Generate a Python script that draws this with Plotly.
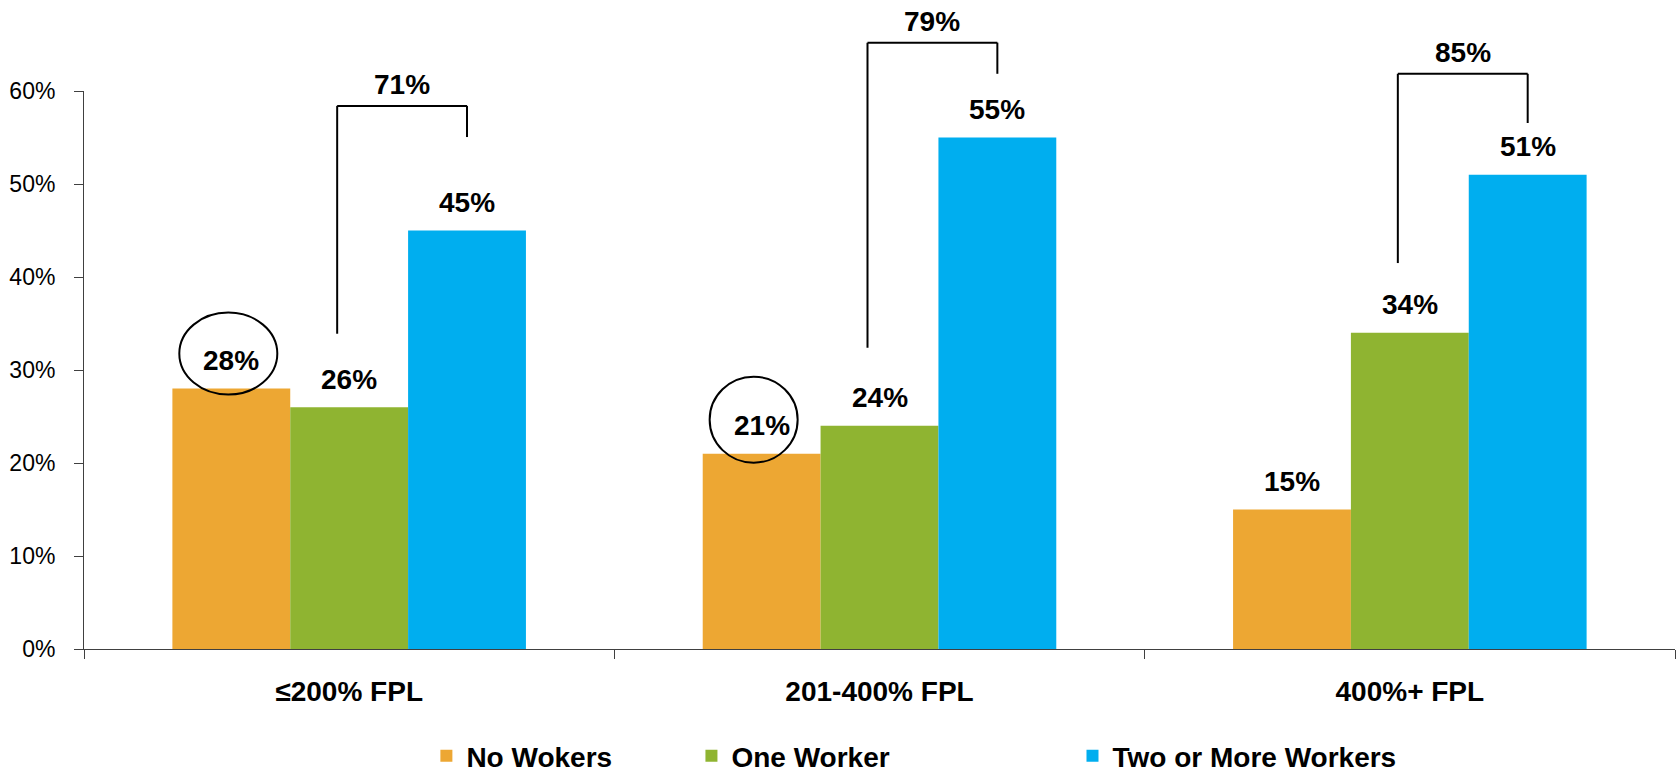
import plotly.graph_objects as go

categories = ["≤200% FPL", "201-400% FPL", "400%+ FPL"]
series_names = ["No Wokers", "One Worker", "Two or More Workers"]
no_workers = [0.28, 0.21, 0.15]
one_worker = [0.26, 0.24, 0.34]
two_plus = [0.45, 0.55, 0.51]
combined_labels = ["71%", "79%", "85%"]
circled = [0, 1]  # categories whose "No Wokers" label is circled

colors = ["#EDA733", "#8FB431", "#00AEEF"]
FONT = "Liberation Sans, Arial, sans-serif"

W, H = 1678, 773
ML, MR, MT, MB = 84, 3, 91, 124
plot_w = W - ML - MR
plot_h = H - MT - MB
YMAX = 0.6
cat_px = plot_w / len(categories)
BARGAP = 1 / 3
bw = (1 - BARGAP) / 3  # bar width in category units


def to_paper(v):
    return v / YMAX


series = [no_workers, one_worker, two_plus]

fig = go.Figure()
legend_ids = ["legend", "legend2", "legend3"]
for j, (name, vals) in enumerate(zip(series_names, series)):
    fig.add_trace(go.Bar(
        x=categories, y=vals, name=name,
        marker=dict(color=colors[j], line=dict(width=0)),
        legend=legend_ids[j],
        hoverinfo="skip",
    ))

annotations = []
shapes = []
# value labels
for j, vals in enumerate(series):
    for i, v in enumerate(vals):
        annotations.append(dict(
            x=i + (j - 1) * bw, y=to_paper(v), xref="x", yref="paper",
            text=f"<b>{round(v*100)}%</b>", showarrow=False,
            yanchor="middle", yshift=28,
            font=dict(family=FONT, size=28, color="black"),
        ))

# circles around selected labels
circle_px = [(-52, 46, -6, 76), (-52, 36, -9, 77)]
for k, i in enumerate(circled):
    x0, x1, y0, y1 = circle_px[k]
    shapes.append(dict(
        type="circle", xref="x", yref="paper",
        xsizemode="pixel", ysizemode="pixel",
        xanchor=i - bw, yanchor=to_paper(no_workers[i]),
        x0=x0, x1=x1, y0=y0, y1=y1,
        line=dict(color="black", width=2), fillcolor="rgba(0,0,0,0)",
    ))

# brackets (positions in data units)
bracket_top = [0.584, 0.652, 0.6185]
left_bottom = [0.339, 0.324, 0.415]
right_bottom = [0.5505, 0.6185, 0.5656]
left_off = -12 / cat_px
for i in range(len(categories)):
    xl = i + left_off
    xr = i + bw
    line = dict(color="black", width=2)
    top = to_paper(bracket_top[i])
    shapes.append(dict(type="line", xref="x", yref="paper", x0=xl, x1=xl,
                       y0=to_paper(left_bottom[i]), y1=top, line=line))
    shapes.append(dict(type="line", xref="x", yref="paper", x0=xl, x1=xr,
                       y0=top, y1=top, line=line))
    shapes.append(dict(type="line", xref="x", yref="paper", x0=xr, x1=xr,
                       y0=to_paper(right_bottom[i]), y1=top, line=line))
    annotations.append(dict(
        x=(xl + xr) / 2, y=top, xref="x", yref="paper",
        text=f"<b>{combined_labels[i]}</b>", showarrow=False,
        yanchor="middle", yshift=21,
        font=dict(family=FONT, size=28, color="black"),
    ))

legend_x = [0.2152, 0.3818, 0.6213]
legend_common = dict(orientation="h", yanchor="middle", xanchor="left", y=-0.192,
                     font=dict(family=FONT, size=28, color="black", weight="bold"),
                     bgcolor="rgba(0,0,0,0)", borderwidth=0, itemclick=False)

fig.update_layout(
    width=W, height=H,
    margin=dict(l=ML, r=MR, t=MT, b=MB, autoexpand=False),
    barmode="group", bargap=BARGAP, bargroupgap=0,
    plot_bgcolor="white", paper_bgcolor="white",
    font=dict(family=FONT, color="black"),
    showlegend=True,
    legend=dict(x=legend_x[0], **legend_common),
    legend2=dict(x=legend_x[1], **legend_common),
    legend3=dict(x=legend_x[2], **legend_common),
    annotations=annotations,
    shapes=shapes,
)
fig.update_xaxes(
    type="category", categoryorder="array", categoryarray=categories,
    showline=True, linecolor="#404040", linewidth=1,
    ticks="outside", tickson="boundaries", ticklen=9, tickcolor="#404040",
    tickfont=dict(family=FONT, size=28, color="black", weight="bold"),
    showgrid=False, zeroline=False, ticklabelstandoff=17,
    automargin=False,
)
fig.update_yaxes(
    range=[0, YMAX], dtick=0.1, tickformat=".0%",
    showline=True, linecolor="#404040", linewidth=1,
    ticks="outside", ticklen=9, tickcolor="#404040",
    tickfont=dict(family=FONT, size=23, color="black"),
    showgrid=False, zeroline=False, ticklabelstandoff=14,
    automargin=False,
)

fig.write_html("out.html")
